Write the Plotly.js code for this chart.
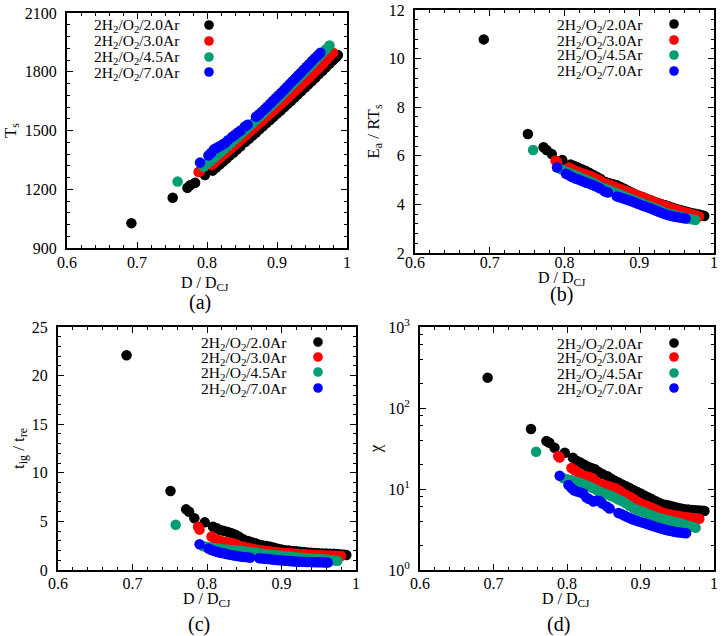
<!DOCTYPE html>
<html><head><meta charset="utf-8">
<script src="https://cdn.plot.ly/plotly-3.0.1.min.js"></script>
<style>html,body{margin:0;padding:0;background:#fff}#plot{width:722px;height:636px}</style>
</head><body><div id="plot"></div>
<script>
// ---------------- data ----------------
const seriesNames = ['2H<sub>2</sub>/O<sub>2</sub>/2.0Ar','2H<sub>2</sub>/O<sub>2</sub>/3.0Ar','2H<sub>2</sub>/O<sub>2</sub>/4.5Ar','2H<sub>2</sub>/O<sub>2</sub>/7.0Ar'];
const seriesColors = ['#000000','#ff0000','#009e73','#0000ff'];

// 2H2/O2/2.0Ar
const D_20 = [0.692,0.751,0.772,0.776,0.783,0.797,0.808,0.813,0.818,0.823,0.828,0.833,0.838,0.843,0.848,0.855,0.860,0.865,0.870,0.875,0.880,0.885,0.890,0.895,0.900,0.905,0.910,0.915,0.920,0.925,0.930,0.935,0.940,0.945,0.950,0.955,0.960,0.965,0.970,0.975,0.980,0.984,0.987];
const Ts_20 = [1027,1157,1208,1220,1233,1273,1295,1311,1326,1342,1357,1373,1388,1404,1420,1442,1458,1474,1490,1506,1522,1538,1554,1570,1586,1602,1618,1635,1651,1668,1685,1702,1719,1736,1753,1770,1788,1805,1823,1841,1859,1873,1885];
const Ea_20 = [10.79,6.90,6.35,6.24,6.07,5.83,5.64,5.58,5.52,5.45,5.38,5.30,5.22,5.14,5.06,4.92,4.87,4.83,4.79,4.72,4.64,4.56,4.49,4.41,4.35,4.29,4.23,4.17,4.11,4.06,4.01,3.96,3.91,3.86,3.81,3.77,3.73,3.69,3.65,3.62,3.58,3.55,3.52];
const Tig_20 = [22.1,8.13,6.24,6.0,5.32,4.9,4.45,4.3,4.12,4.0,3.92,3.78,3.62,3.42,3.2,2.98,2.86,2.74,2.6,2.52,2.46,2.4,2.3,2.18,2.1,2.04,2.0,1.96,1.92,1.88,1.84,1.81,1.78,1.76,1.73,1.71,1.69,1.68,1.66,1.64,1.6,1.57,1.54];
const Chi_20 = [237,55,39,37.3,32.3,28,24.3,22.4,21.2,20.1,19.0,18.2,17.5,16.2,15.3,14.4,13.4,12.6,12.0,11.4,10.8,10.3,9.75,9.25,8.8,8.3,7.9,7.5,7.1,6.75,6.5,6.35,6.2,6.05,5.88,5.74,5.64,5.58,5.52,5.47,5.42,5.38,5.35];

// 2H2/O2/3.0Ar
const D_30 = [0.788,0.790,0.806,0.810,0.815,0.820,0.825,0.830,0.835,0.840,0.845,0.850,0.856,0.861,0.866,0.871,0.876,0.881,0.886,0.891,0.896,0.901,0.906,0.911,0.916,0.921,0.926,0.931,0.936,0.941,0.946,0.951,0.956,0.961,0.966,0.971,0.976,0.980];
const Ts_30 = [1288,1292,1323,1333,1349,1364,1380,1395,1411,1426,1442,1458,1477,1493,1509,1525,1541,1557,1573,1589,1605,1621,1637,1653,1670,1686,1703,1720,1737,1754,1771,1788,1806,1823,1841,1862,1881,1897];
const Ea_30 = [5.80,5.76,5.52,5.46,5.38,5.32,5.27,5.22,5.17,5.10,5.02,4.93,4.86,4.80,4.74,4.68,4.62,4.57,4.51,4.46,4.40,4.34,4.28,4.22,4.16,4.10,4.04,3.98,3.92,3.87,3.82,3.77,3.72,3.68,3.64,3.59,3.54,3.50];
const Tig_30 = [4.45,4.15,3.45,3.25,3.08,2.95,2.88,2.82,2.75,2.6,2.45,2.38,2.26,2.18,2.12,2.06,2.0,1.95,1.9,1.86,1.82,1.78,1.75,1.72,1.69,1.67,1.64,1.62,1.6,1.58,1.56,1.54,1.52,1.5,1.48,1.46,1.44,1.43];
const Chi_30 = [25.5,24.5,18.2,17.2,16.0,14.9,14.4,14.2,13.6,12.3,11.5,11.3,10.9,10.5,10.2,9.6,8.9,8.4,7.95,7.5,6.95,6.6,6.35,6.1,5.85,5.6,5.3,5.05,4.95,4.85,4.75,4.66,4.58,4.52,4.46,4.4,4.35,4.3];

// 2H2/O2/4.5Ar
const D_45 = [0.758,0.795,0.800,0.805,0.810,0.815,0.820,0.825,0.830,0.835,0.840,0.845,0.850,0.855,0.860,0.865,0.870,0.875,0.880,0.885,0.890,0.895,0.900,0.905,0.910,0.915,0.920,0.925,0.930,0.935,0.940,0.945,0.950,0.955,0.960,0.965,0.970,0.975];
const Ts_45 = [1239,1315,1330,1345,1360,1376,1391,1407,1423,1439,1455,1471,1487,1503,1520,1536,1553,1570,1587,1604,1621,1639,1656,1674,1692,1710,1728,1746,1764,1782,1801,1820,1838,1857,1876,1895,1915,1934];
const Ea_45 = [6.24,5.45,5.37,5.31,5.25,5.19,5.13,5.07,5.0,4.93,4.86,4.77,4.70,4.64,4.58,4.52,4.46,4.40,4.33,4.27,4.21,4.15,4.09,4.03,3.97,3.91,3.85,3.79,3.72,3.66,3.61,3.57,3.53,3.49,3.46,3.42,3.39,3.36];
const Tig_45 = [4.65,2.45,2.4,2.34,2.26,2.2,2.16,2.12,2.09,2.06,2.02,1.97,1.92,1.88,1.84,1.78,1.73,1.68,1.63,1.58,1.54,1.5,1.46,1.42,1.38,1.34,1.3,1.27,1.24,1.21,1.18,1.15,1.12,1.1,1.07,1.03,0.99,0.96];
const Chi_45 = [28.9,13.6,13.2,12.9,12.5,12.2,11.7,11.2,10.8,10.3,9.75,9.3,8.85,8.55,8.2,7.85,7.4,7.05,6.65,6.2,5.8,5.55,5.35,5.15,4.95,4.75,4.55,4.4,4.28,4.16,4.05,3.95,3.85,3.75,3.65,3.53,3.42,3.32];

// 2H2/O2/7.0Ar
const D_70 = [0.790,0.802,0.806,0.810,0.814,0.818,0.822,0.826,0.830,0.836,0.840,0.844,0.848,0.854,0.858,0.870,0.874,0.878,0.882,0.886,0.890,0.894,0.898,0.902,0.906,0.910,0.914,0.918,0.922,0.926,0.930,0.934,0.938,0.942,0.946,0.950,0.954,0.958,0.962];
const Ts_70 = [1336,1372,1386,1404,1412,1420,1428,1436,1450,1468,1478,1490,1500,1520,1530,1570,1582,1595,1608,1621,1636,1651,1665,1679,1693,1707,1722,1737,1752,1766,1781,1795,1810,1825,1840,1855,1869,1883,1897];
const Ea_70 = [5.52,5.26,5.2,5.13,5.07,5.03,4.98,4.93,4.88,4.82,4.77,4.71,4.65,4.53,4.49,4.33,4.29,4.25,4.21,4.17,4.13,4.08,4.03,3.98,3.93,3.89,3.85,3.80,3.75,3.70,3.65,3.60,3.56,3.53,3.5,3.48,3.46,3.44,3.42];
const Tig_70 = [2.65,2.2,2.06,1.95,1.86,1.78,1.72,1.64,1.58,1.5,1.45,1.4,1.35,1.3,1.27,1.22,1.19,1.16,1.12,1.09,1.06,1.03,1.0,0.97,0.95,0.92,0.9,0.88,0.86,0.85,0.84,0.83,0.82,0.81,0.8,0.8,0.79,0.78,0.76];
const Chi_70 = [14.6,11.2,10.3,9.6,9.3,9.1,8.8,7.9,7.5,7.0,7.2,7.1,6.6,6.1,5.75,5.05,4.9,4.7,4.5,4.35,4.2,4.08,3.97,3.87,3.77,3.67,3.57,3.47,3.38,3.29,3.21,3.14,3.08,3.02,2.97,2.93,2.9,2.87,2.84];

const xTickVals = [0.6,0.7,0.8,0.9,1.0];
const xTickText = ['0.6','0.7','0.8','0.9','1'];
const chiTickVals = [1,10,100,1000];
const chiTickText = ['10<sup>0</sup>','10<sup>1</sup>','10<sup>2</sup>','10<sup>3</sup>'];
const chiMinorVals = [2,4,6,8,20,40,60,80,200,400,600,800];
const panelLabels = ['(a)','(b)','(c)','(d)'];
const xTitle = 'D / D<sub>CJ</sub>';

// ---------------- build ----------------
const W = 722, H = 636;
const FONT = '"Liberation Serif", "Times New Roman", serif';
const TICKSIZE = 16;
const Ds = [D_20, D_30, D_45, D_70];
const panels = [
  {ys:[Ts_20,Ts_30,Ts_45,Ts_70], ax:'', px:[67,347], py:[13,248], xlab:-1, xt:[205,283], pl:[200,303]},
  {ys:[Ea_20,Ea_30,Ea_45,Ea_70], ax:'2', px:[415,714], py:[10,253], xlab:-6, xt:[562,278], pl:[561,295]},
  {ys:[Tig_20,Tig_30,Tig_45,Tig_70], ax:'3', px:[58,356], py:[327,570], xlab:-2, xt:[207,599], pl:[199,624]},
  {ys:[Chi_20,Chi_30,Chi_45,Chi_70], ax:'4', px:[420,714], py:[327,570], xlab:-2, xt:[566,599], pl:[558,624]}
];

const traces = [];
panels.forEach(p => {
  for (let s = 0; s < 4; s++) {
    traces.push({
      type:'scatter', mode:'markers', x: Ds[s], y: p.ys[s],
      xaxis:'x'+p.ax, yaxis:'y'+p.ax, name: seriesNames[s], showlegend:false,
      marker:{color: seriesColors[s], size:10.5, line:{width:0}}
    });
  }
});

function xAxis(p, dom) {
  return {
    domain: dom, range:[0.6,1.0], tickvals: xTickVals, ticktext: xTickText,
    ticks:'inside', ticklen:6, tickwidth:1, tickcolor:'#000',
    minor:{dtick:0.02, tick0:0.6, ticks:'inside', ticklen:3, tickcolor:'#000', tickwidth:1},
    showline:true, linewidth:2, linecolor:'#000', mirror:'ticks',
    showgrid:false, zeroline:false, anchor:'y'+p.ax, ticklabeloverflow:'allow',
    tickfont:{family:FONT, size:TICKSIZE, color:'#000'}, ticklabelstandoff:p.xlab
  };
}
function yAxisBase(p, dom) {
  return {
    domain: dom, ticks:'inside', ticklen:6, tickwidth:1, tickcolor:'#000',
    showline:true, linewidth:2, linecolor:'#000', mirror:'ticks',
    showgrid:false, zeroline:false, anchor:'x'+p.ax, ticklabeloverflow:'allow',
    tickfont:{family:FONT, size:TICKSIZE, color:'#000'}, ticklabelstandoff:5
  };
}

const layout = {
  width:W, height:H, margin:{l:0,r:0,t:0,b:0}, paper_bgcolor:'#fff', plot_bgcolor:'#fff',
  showlegend:false, font:{family:FONT, color:'#000'}, annotations:[], shapes:[]
};
const tfont = {family:FONT, size:17, color:'#000'};

panels.forEach((p, i) => {
  const xd = [p.px[0]/W, p.px[1]/W];
  const yd = [1 - p.py[1]/H, 1 - p.py[0]/H];
  layout['xaxis'+p.ax] = xAxis(p, xd);
  const ya = yAxisBase(p, yd);
  if (i === 0) {
    Object.assign(ya, {range:[900,2100], tickvals:[900,1200,1500,1800,2100],
      minor:{dtick:60, tick0:900, ticks:'inside', ticklen:3, tickcolor:'#000'},
      title:{text:'T<sub>s</sub>', font:tfont, standoff:4}});
  } else if (i === 1) {
    Object.assign(ya, {range:[2,12], tickvals:[2,4,6,8,10,12],
      minor:{dtick:0.4, tick0:2, ticks:'inside', ticklen:3, tickcolor:'#000'},
      title:{text:'E<sub>a</sub> / RT<sub>s</sub>', font:tfont, standoff:5}});
  } else if (i === 2) {
    Object.assign(ya, {range:[0,25], tickvals:[0,5,10,15,20,25],
      minor:{dtick:1, tick0:0, ticks:'inside', ticklen:3, tickcolor:'#000'},
      title:{text:'t<sub>ig</sub> / t<sub>re</sub>', font:tfont, standoff:3}});
  } else {
    Object.assign(ya, {type:'log', range:[0,3], tickvals:chiTickVals, ticktext:chiTickText,
      minor:{tickmode:'array', tickvals:chiMinorVals, ticks:'inside', ticklen:3, tickcolor:'#000'},
      title:{text:'χ', font:tfont, standoff:2}});
  }
  layout['yaxis'+p.ax] = ya;

  // x-axis title and panel label
  layout.annotations.push({text: xTitle, x: p.xt[0]/W, y: 1-p.xt[1]/H, xref:'paper', yref:'paper',
    showarrow:false, xanchor:'center', yanchor:'middle', font:{family:FONT, size:16, color:'#000'}});
  layout.annotations.push({text: panelLabels[i], x: p.pl[0]/W, y: 1-p.pl[1]/H, xref:'paper', yref:'paper',
    showarrow:false, xanchor:'center', yanchor:'middle', font:{family:FONT, size:20, color:'#000'}});
});

// legends (text + circle marker on the right, like the original)
const legendPos = [
  {tx:92, mx:209, rows:[25,41,57,72]},
  {tx:555, mx:674, rows:[24,40,55,71]},
  {tx:199, mx:318, rows:[342,357,372,388]},
  {tx:555, mx:674, rows:[343,357,373,388]}
];
const r = 4.8;
legendPos.forEach(lg => {
  lg.rows.forEach((ry, s) => {
    layout.annotations.push({text: seriesNames[s], x: lg.tx/W, y: 1-(ry+1)/H, xref:'paper', yref:'paper',
      showarrow:false, xanchor:'left', yanchor:'middle', font:{family:FONT, size:15.5, color:'#000'}});
    layout.shapes.push({type:'circle', xref:'paper', yref:'paper',
      x0:(lg.mx-r)/W, x1:(lg.mx+r)/W, y0:1-(ry+r)/H, y1:1-(ry-r)/H,
      fillcolor: seriesColors[s], line:{width:0}});
  });
});

Plotly.newPlot('plot', traces, layout, {staticPlot:true, displayModeBar:false});
</script>
</body></html>
